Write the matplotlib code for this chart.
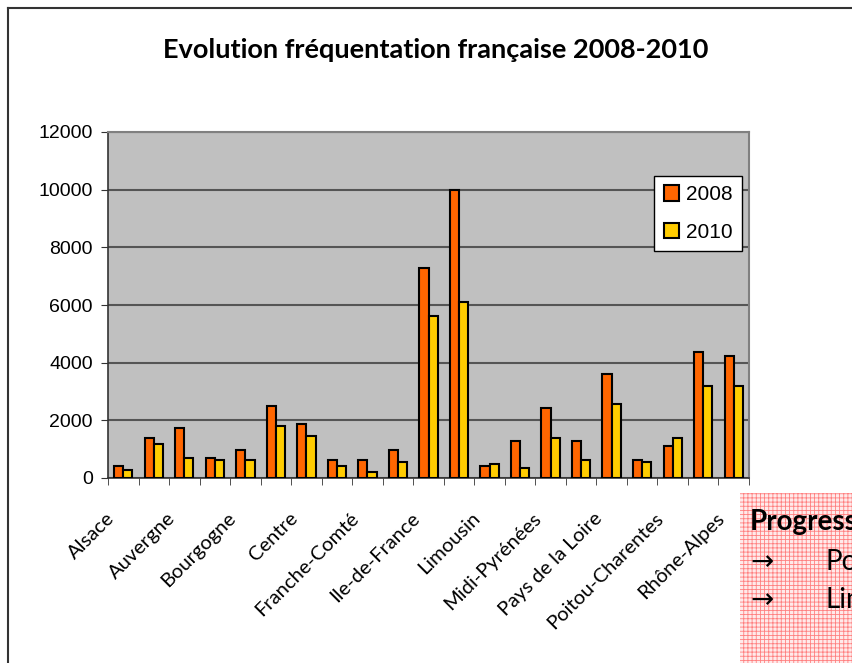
import numpy as np
import matplotlib
matplotlib.use("Agg")
import matplotlib.pyplot as plt
import matplotlib.transforms as mtransforms
from matplotlib.patches import Rectangle
from matplotlib.lines import Line2D

# Données
regions = ["Alsace", "Aquitaine", "Auvergne", "Basse-Normandie", "Bourgogne",
           "Bretagne", "Centre", "Champagne-Ardenne", "Franche-Comté",
           "Haute-Normandie", "Ile-de-France", "Languedoc-Roussillon", "Limousin",
           "Lorraine", "Midi-Pyrénées", "Nord-Pas-de-Calais", "Pays de la Loire",
           "Picardie", "Poitou-Charentes", "Provence-Alpes-Côte d'Azur", "Rhône-Alpes"]
v2008 = [400, 1390, 1730, 690, 970, 2500, 1870, 620, 620, 970, 7280, 10000,
         400, 1300, 2430, 1300, 3600, 620, 1110, 4370, 4230]
v2010 = [270, 1190, 690, 620, 620, 1800, 1460, 400, 200, 560, 5620, 6100,
         490, 330, 1390, 620, 2570, 560, 1390, 3190, 3190]
yticks = [0, 2000, 4000, 6000, 8000, 10000, 12000]

fig = plt.figure(figsize=(8.52, 6.63), dpi=100)
ax = fig.add_axes([108/852, 1-478/663, 641/852, 346/663])

x = np.arange(len(regions))
w = 0.3
ax.bar(x - w/2, v2008, w, color="#FF6600", edgecolor="black", linewidth=1.5, label="2008", zorder=3)
ax.bar(x + w/2, v2010, w, color="#FFCC00", edgecolor="black", linewidth=1.5, label="2010", zorder=3)

ax.set_facecolor("#C0C0C0")
ax.set_xlim(-0.5, len(regions) - 0.5)
ax.set_ylim(0, 12000)
ax.set_yticks(yticks)
ax.set_yticklabels([str(v) for v in yticks], fontsize=14, family="Liberation Sans")
ax.yaxis.grid(True, color="#555555", linewidth=1.5, zorder=0)
ax.set_axisbelow(True)

# étiquettes une sur deux
ax.set_xticks(x[::2])
ax.set_xticklabels(regions[::2], rotation=45, ha="right", va="center",
                   rotation_mode="anchor", fontsize=14.5, family="Lato")
ax.tick_params(axis="x", length=0, pad=27)
decal = mtransforms.ScaledTranslation(-12/100, 0, fig.dpi_scale_trans)
for lab in ax.get_xticklabels():
    lab.set_transform(lab.get_transform() + decal)
ax.set_xticks(np.arange(-0.5, len(regions)), minor=True)
ax.tick_params(axis="x", which="minor", length=5, color="#333333")
ax.tick_params(axis="y", length=5, color="#333333", pad=6)

for s in ["top", "right"]:
    ax.spines[s].set_color("#808080")
    ax.spines[s].set_linewidth(1.5)
for s in ["left", "bottom"]:
    ax.spines[s].set_color("#333333")
    ax.spines[s].set_linewidth(1.2)

leg = ax.legend(loc="upper left", bbox_to_anchor=(0.852, 0.873),
                prop={"family": "Liberation Sans", "size": 15},
                fancybox=False, framealpha=1, edgecolor="black",
                handlelength=0.75, handleheight=0.75, labelspacing=0.9,
                handletextpad=0.35, borderpad=0.45, borderaxespad=0)
leg.get_frame().set_linewidth(1.0)

fig.text(436/852, 1-50/663, "Evolution fréquentation française 2008-2010",
         ha="center", va="center", fontsize=19.5, fontweight="bold", family="Lato")

# cadre du graphique
fig.add_artist(Line2D([8/852, 8/852], [0, 1-8/663], color="#333333", linewidth=1.5))
fig.add_artist(Line2D([8/852, 1], [1-8/663, 1-8/663], color="#333333", linewidth=1.5))

# zone de texte rose
plt.rcParams["hatch.linewidth"] = 0.6
fig.add_artist(Rectangle((740/852, 0), 0.2, (663-493)/663, transform=fig.transFigure,
                         facecolor="#FFEAEA", edgecolor="#FF8080", hatch="++++",
                         linewidth=0))
fig.text(750/852, 1-522/663, "Progression", fontsize=20, fontweight="bold",
         family="Lato", va="center")
fig.text(750/852, 1-562/663, "→", fontsize=20, family="DejaVu Sans", va="center")
fig.text(825/852, 1-562/663, "Poitou-Charentes", fontsize=20, family="Lato", va="center")
fig.text(750/852, 1-600/663, "→", fontsize=20, family="DejaVu Sans", va="center")
fig.text(825/852, 1-600/663, "Limousin", fontsize=20, family="Lato", va="center")

fig.savefig("out.png", dpi=100)
